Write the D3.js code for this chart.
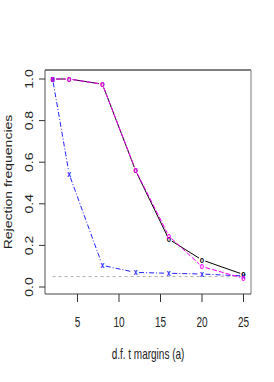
<!DOCTYPE html>
<html><head><meta charset="utf-8">
<script src="https://cdn.jsdelivr.net/npm/d3@7"></script>
<style>body{margin:0;background:#fff}svg{display:block}text{font-family:"Liberation Sans",Arial,sans-serif}</style>
</head><body><svg id="c" width="274" height="382"></svg>
<script>
const dfs = [2, 4, 8, 12, 16, 20, 25];
const seriesBlack = [1.0, 1.0, 0.975, 0.56, 0.23, 0.13, 0.06];
const seriesMagenta = [1.0, 1.0, 0.975, 0.5625, 0.245, 0.098, 0.042];
const seriesBlue = [1.0, 0.542, 0.104, 0.07, 0.066, 0.0625, 0.053];
const nominalLevel = 0.05;
const xTicks = [5, 10, 15, 20, 25];
const yTicks = [0.0, 0.2, 0.4, 0.6, 0.8, 1.0];
const xLabel = "d.f. t margins (a)";
const yLabel = "Rejection frequencies";

const svg = d3.select("#c");
const L = 45, R = 251, T = 70, B = 294;
const SY = 1.4; // vertical stretch of glyphs as in the reference
const x = d3.scaleLinear().domain([0, 5]).range([36, 77.5]);
const xd = [x.invert(L), x.invert(R)];
x.domain([xd[0], xd[1]]).range([L, R]);
const y0 = d3.scaleLinear().domain([0, 1]).range([287, 79]);
const y = d3.scaleLinear().domain([y0.invert(B), y0.invert(T)]).range([B, T]);

// nominal level
svg.append("line").attr("x1", x(dfs[0])).attr("x2", x(dfs[dfs.length - 1]))
  .attr("y1", y(nominalLevel)).attr("y2", y(nominalLevel))
  .attr("stroke", "#b0b0b0").attr("stroke-width", 1).attr("stroke-dasharray", "3,3");

const series = [
  {v: seriesBlue, c: "#2222ff", dash: "5,2,1,2", m: "x"},
  {v: seriesBlack, c: "#000", dash: null, m: "o"},
  {v: seriesMagenta, c: "#ff00ff", dash: "5,2", m: "o"}
];
series.forEach(s => {
  for (let i = 0; i < dfs.length - 1; i++) {
    const x1 = x(dfs[i]), y1 = y(s.v[i]), x2 = x(dfs[i + 1]), y2 = y(s.v[i + 1]);
    const len = Math.hypot(x2 - x1, y2 - y1), g = 3.5;
    if (len <= 2 * g) continue;
    const ux = (x2 - x1) / len, uy = (y2 - y1) / len;
    svg.append("line").attr("x1", x1 + ux * g).attr("y1", y1 + uy * g)
      .attr("x2", x2 - ux * g).attr("y2", y2 - uy * g)
      .attr("stroke", s.c).attr("stroke-width", 1)
      .attr("stroke-dasharray", s.dash);
  }
  svg.selectAll(null).data(s.v).enter().append("text")
    .attr("transform", (d, i) => `translate(${x(dfs[i])},${y(d) + 2.8}) scale(1,1.3)`)
    .attr("text-anchor", "middle").attr("font-size", 7).attr("font-weight", "bold")
    .attr("fill", s.c).text(s.m);
});

// box
svg.append("line").attr("x1", L).attr("x2", R).attr("y1", T).attr("y2", T).attr("stroke", "#000");
svg.append("line").attr("x1", R).attr("x2", R).attr("y1", T).attr("y2", B).attr("stroke", "#999").attr("stroke-width", 1.3);
svg.append("line").attr("x1", L).attr("x2", L).attr("y1", T).attr("y2", B).attr("stroke", "#555");
svg.append("line").attr("x1", L).attr("x2", R).attr("y1", B).attr("y2", B).attr("stroke", "#444");

// axes
xTicks.forEach(t => {
  svg.append("line").attr("x1", x(t)).attr("x2", x(t)).attr("y1", B).attr("y2", B + 8).attr("stroke", "#333");
  svg.append("text").attr("transform", `translate(${x(t)},327) scale(1,${SY})`).attr("text-anchor", "middle")
    .attr("font-size", 10).attr("fill", "#222").text(t);
});
yTicks.forEach(t => {
  svg.append("line").attr("x1", L - 6).attr("x2", L).attr("y1", y(t)).attr("y2", y(t)).attr("stroke", "#333");
  svg.append("text").attr("transform", `translate(33,${y(t)}) scale(1,${SY}) rotate(-90)`).attr("text-anchor", "middle")
    .attr("font-size", 10).attr("fill", "#222").text(t.toFixed(1));
});
svg.append("text").attr("transform", `translate(${(L + R) / 2},359) scale(1,${SY})`).attr("text-anchor", "middle")
  .attr("font-size", 10).attr("fill", "#222").text(xLabel);
svg.append("text").attr("transform", `translate(11.5,182) scale(1,${SY}) rotate(-90)`).attr("text-anchor", "middle")
  .attr("font-size", 10).attr("fill", "#222").text(yLabel);
</script></body></html>
